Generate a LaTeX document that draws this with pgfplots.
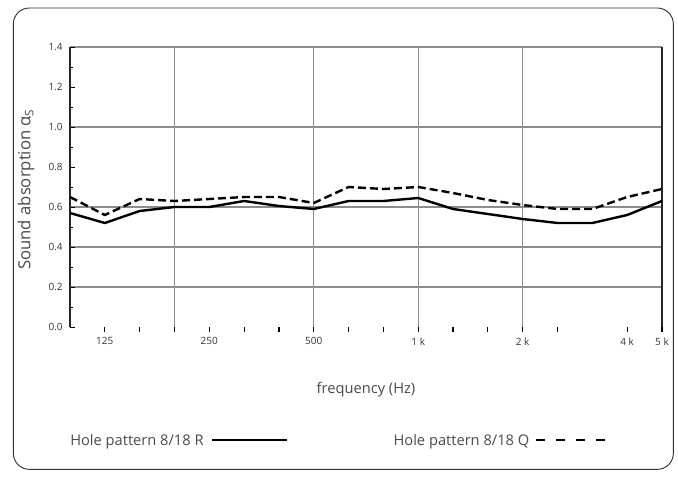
\documentclass[border=0pt]{standalone}
\usepackage{pgfplots}
\pgfplotsset{compat=1.18}
\usepackage{fontspec}
\setmainfont{Open Sans}
\definecolor{txt}{HTML}{4A4A4A}
\definecolor{grd}{HTML}{8C8C8C}
\begin{document}
\begin{tikzpicture}
\useasboundingbox (0,0) rectangle (508.5pt,-358.5pt);
\draw[line width=0.7pt, color=black!80, rounded corners=12pt] (10pt,-6pt) rectangle (505pt,-352pt);
\begin{axis}[
  at={(52.5pt,-245.25pt)}, anchor=south west,
  scale only axis, width=444pt, height=210pt,
  xmin=0, xmax=17, ymin=0, ymax=1.4,
  separate axis lines,
  x axis line style={draw=none},
  y axis line style={draw=black!85, line width=1.3pt},
  major grid style={grd, line width=0.8pt},
  xtick={1,2,3,4,5,6,7,8,9,10,11,12,13,14,16,17},
  xticklabels={125,,,250,,,500,,,1 k,,,2 k,,4 k,5 k},
  xtick pos=bottom,
  x tick style={black, line width=0.9pt},
  xtick align=outside,
  major tick length=3.5pt,
  ytick={0.2,0.4,0.6,1.0,1.4},
  ymajorgrids=true,
  ytick pos=left,
  minor ytick={0.1,0.3,0.5,0.7,0.9,1.1,1.3},
  y tick style={black, line width=0.6pt},
  ytick align=inside,
  minor tick length=2pt,
  /pgf/number format/fixed,
  /pgf/number format/fixed zerofill,
  /pgf/number format/precision=1,
  /pgf/number format/assume math mode=true,
  tick label style={font=\fontsize{7.5}{8}\selectfont, color=black!80},
  xticklabel style={yshift=-1pt},
  yticklabel style={xshift=-2pt},
  extra x ticks={3,7,10,13},
  extra x tick labels={},
  extra x tick style={xmajorgrids=true},
  extra y ticks={0,0.8,1.2},
  extra y tick style={ymajorgrids=false},
  clip=false,
]
\addplot[black, line width=1.8pt, line join=round] coordinates {
(0,0.57) (1,0.52) (2,0.58) (3,0.60) (4,0.60) (5,0.63) (6,0.605) (7,0.59)
(8,0.63) (9,0.63) (10,0.645) (11,0.59) (12,0.565) (13,0.54) (14,0.52) (15,0.52) (16,0.56) (17,0.63)};
\addplot[black, line width=1.8pt, dash pattern=on 6pt off 3pt, line join=round] coordinates {
(0,0.65) (1,0.56) (2,0.64) (3,0.63) (4,0.64) (5,0.65) (6,0.65) (7,0.62)
(8,0.70) (9,0.69) (10,0.70) (11,0.67) (12,0.635) (13,0.61) (14,0.59) (15,0.59) (16,0.65) (17,0.69)};
\end{axis}
\node[color=txt, font=\fontsize{12.5}{14}\selectfont, rotate=90] at (19.5pt,-142pt) {Sound absorption α\textsubscript{S}};
\node[color=txt, font=\fontsize{11}{13}\selectfont] at (274.5pt,-292.5pt) {frequency (Hz)};
\node[color=txt, font=\fontsize{11}{13}\selectfont, anchor=base west, inner sep=0pt] at (52.5pt,-333.8pt) {Hole pattern 8/18 R};
\draw[black, line width=1.8pt] (159pt,-330pt) -- (215pt,-330pt);
\node[color=txt, font=\fontsize{11}{13}\selectfont, anchor=base west, inner sep=0pt] at (295pt,-333.8pt) {Hole pattern 8/18 Q};
\draw[black, line width=1.8pt, dash pattern=on 7pt off 8pt] (402pt,-330pt) -- (462pt,-330pt);
\end{tikzpicture}
\end{document}
